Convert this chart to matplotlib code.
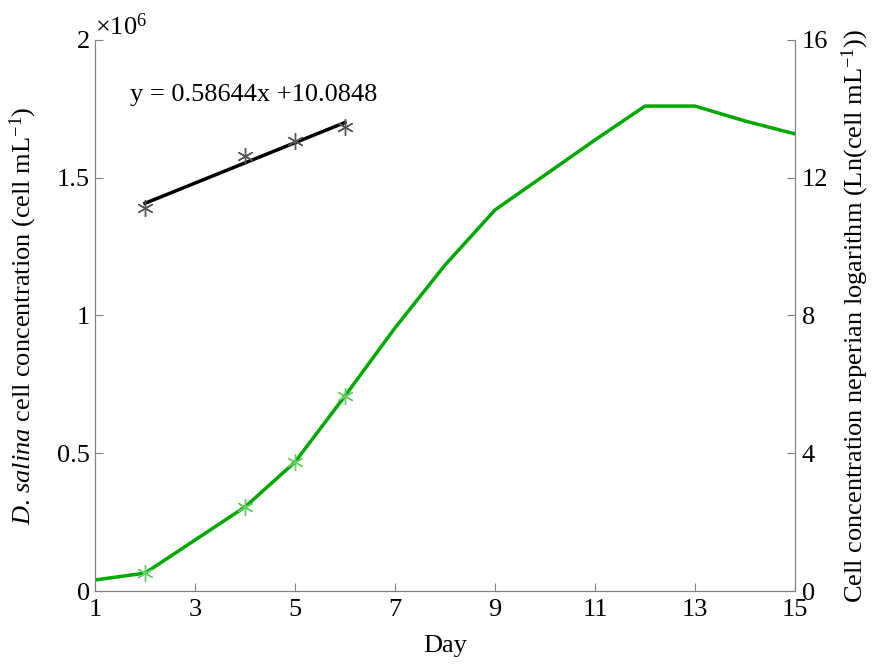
import numpy as np
import matplotlib
matplotlib.use('Agg')
import matplotlib.pyplot as plt

plt.rcParams['font.family'] = ['Liberation Serif', 'DejaVu Serif']
plt.rcParams['mathtext.fontset'] = 'custom'
plt.rcParams['mathtext.rm'] = 'Liberation Serif'
plt.rcParams['mathtext.it'] = 'Liberation Serif:italic'

# growth curve, cell mL-1
days = [1, 2, 4, 5, 6, 7, 8, 9, 10, 11, 12, 13, 14, 15]
cells = [40000, 65000, 305000, 468000, 708000, 955000, 1183000, 1383000,
         1510000, 1637000, 1760000, 1760000, 1706000, 1659000]

# exponential phase samples
exp_days = [2, 4, 5, 6]
exp_cells = [65000, 305000, 468000, 708000]
exp_ln = [11.12, 12.63, 13.07, 13.47]

# linear fit on ln values
slope = 0.58644
intercept = 10.0848

green = '#00a800'
axcol = '#808080'
fs = 19

fig = plt.figure(figsize=(8.74, 6.66), dpi=100)
ax = fig.add_axes([0.1087, 0.1126, 0.8009, 0.8274])
ax2 = ax.twinx()

ax.plot(days, np.array(cells) / 1e6, color=green, lw=2.5, zorder=3)
ax.plot(exp_days, np.array(exp_cells) / 1e6, ls='none', marker=(6, 2, 0),
        ms=12, mew=1.0, color='#66cc66', zorder=4)

fx = np.array([exp_days[0], exp_days[-1]])
ax2.plot(fx, slope * fx + intercept, color='black', lw=2.5)
ax2.plot(exp_days, exp_ln, ls='none', marker=(6, 2, 0), ms=12, mew=1.0,
         color='#555555')

ax.set_xlim(1, 15)
ax.set_ylim(0, 2)
ax2.set_ylim(0, 16)
ax.set_xticks([1, 3, 5, 7, 9, 11, 13, 15])
ax.set_yticks([0, 0.5, 1, 1.5, 2])
ax.set_yticklabels(['0', '0.5', '1', '1.5', '2'])
ax2.set_yticks([0, 4, 8, 12, 16])

for a in (ax, ax2):
    a.spines['top'].set_visible(False)
    for s in ('left', 'right', 'bottom'):
        a.spines[s].set_color(axcol)
    a.tick_params(direction='in', length=6, color=axcol, labelsize=fs,
                  labelcolor='black')
ax.tick_params(axis='x', pad=6)
ax2.tick_params(axis='y', pad=5)

ax.text(1.0, 2.0, r'$\times10^6$', fontsize=fs, ha='left', va='bottom')
ax.text(1.7, 1.8, 'y = 0.58644x +10.0848', fontsize=fs, ha='left', va='center')

ax.set_xlabel('Day', fontsize=fs, labelpad=10)
ax.set_ylabel(r'$\it{D}$. $\it{salina}$ cell concentration (cell mL$^{-1}$)',
              fontsize=fs, labelpad=13)
ax2.set_ylabel(r'Cell concentration neperian logarithm (Ln(cell mL$^{-1}$))',
               fontsize=fs, labelpad=8)

fig.savefig('out.png', dpi=100)
